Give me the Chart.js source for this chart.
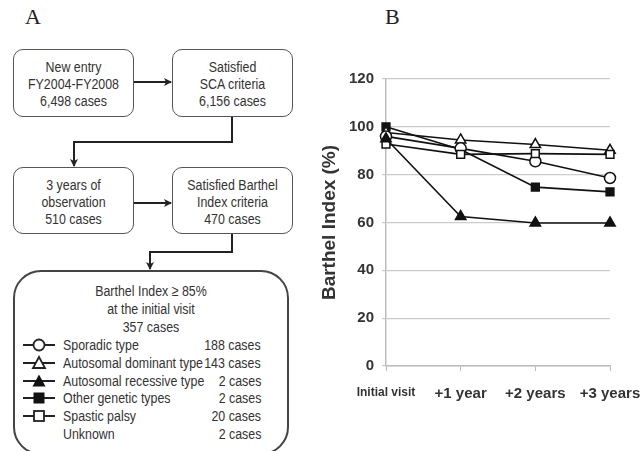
<!DOCTYPE html>
<html>
<head>
<meta charset="utf-8">
<script src="https://cdn.jsdelivr.net/npm/chart.js@4.4.1/dist/chart.umd.min.js"></script>
<style>
    body { margin: 0; background: #fff; }
    #page { position: relative; width: 641px; height: 451px; overflow: hidden; font-family: "Liberation Sans", Arial, sans-serif; color: #333; }
    .panel-label { position: absolute; top: 4px; font-family: "Liberation Serif", "DejaVu Serif", serif; font-size: 22px; color: #222; }
    .box { position: absolute; border: 1px solid #555; border-radius: 10px; box-sizing: border-box; text-align: center; font-size: 15.5px; line-height: 17px; padding-top: 8px; }
    .narrow { transform: scaleX(0.8); transform-origin: center; white-space: nowrap; }
    .bigbox { position: absolute; left: 13px; top: 270px; width: 276px; height: 185px; border: 2px solid #444; border-radius: 28px; box-sizing: border-box; font-size: 15.5px; }
    .bigbox .head { position: absolute; left: 0; right: 0; text-align: center; line-height: 18px; transform: scaleX(0.8); white-space: nowrap; }
    .row { position: absolute; left: 0; right: 0; height: 18px; line-height: 18px; }
    .row .name { position: absolute; left: 48px; transform: scaleX(0.8); transform-origin: left; white-space: nowrap; }
    .row .count { position: absolute; right: 26px; transform: scaleX(0.8); transform-origin: right; white-space: nowrap; }
    #arrows { position: absolute; left: 0; top: 0; }
    #chartWrap { position: absolute; left: 310px; top: 60px; width: 331px; height: 370px; }
</style>
</head>
<body>
<div id="page">
    <div class="panel-label" style="left:25px">A</div>
    <div class="panel-label" style="left:385px">B</div>

    <div class="box" style="left:13px; top:49px; width:121px; height:68px"><div class="narrow">New entry<br>FY2004-FY2008<br>6,498 cases</div></div>
    <div class="box" style="left:172px; top:49px; width:121px; height:68px"><div class="narrow">Satisfied<br>SCA criteria<br>6,156 cases</div></div>
    <div class="box" style="left:13px; top:167px; width:121px; height:67px"><div class="narrow">3 years of<br>observation<br>510 cases</div></div>
    <div class="box" style="left:172px; top:167px; width:121px; height:67px"><div class="narrow">Satisfied Barthel<br>Index criteria<br>470 cases</div></div>

    <div class="bigbox" id="bigbox">
        <div class="head" style="top:10px">Barthel Index ≥ 85%</div>
        <div class="head" style="top:28px">at the initial visit</div>
        <div class="head" style="top:46px">357 cases</div>
    </div>

    <svg id="arrows" width="310" height="451"></svg>

    <div id="chartWrap"><canvas id="chartB"></canvas></div>
</div>

<script>
// Panel B data
const timePoints = ["Initial visit", "+1 year", "+2 years", "+3 years"];
const sporadicType = [96, 91, 85.6, 78.6];
const autoDominant = [97.6, 94.5, 92.6, 90.2];
const autoRecessive = [95, 62.5, 59.8, 59.8];
const otherGenetic = [100, 90.5, 74.8, 72.8];
const spasticPalsy = [92.8, 88.5, 88.8, 88.5];
const yMin = 0;
const yMax = 120;
const yStep = 20;

// Panel A legend rows
const groupNames = ["Sporadic type", "Autosomal dominant type", "Autosomal recessive type", "Other genetic types", "Spastic palsy", "Unknown"];
const groupCases = ["188 cases", "143 cases", "2 cases", "2 cases", "20 cases", "2 cases"];
const groupMarkers = ["openCircle", "openTriangle", "triangle", "square", "openSquare", null];

// Flowchart arrows
function drawArrows() {
    const svg = document.getElementById("arrows");
    let html = `<defs><marker id="ah" markerWidth="8" markerHeight="8" refX="7" refY="4" orient="auto" markerUnits="userSpaceOnUse">
        <path d="M0,0 L8,4 L0,8 L2,4 z" fill="#222"/></marker></defs>`;
    const paths = [
        "M134,82 L171,82",
        "M232,117 L232,142 L74,142 L74,166",
        "M134,203 L171,203",
        "M232,234 L232,252 L150,252 L150,269"
    ];
    paths.forEach(d => {
        html += `<path d="${d}" fill="none" stroke="#222" stroke-width="2" marker-end="url(#ah)"/>`;
    });
    svg.innerHTML = html;
}

function markerSvg(kind) {
    let s = `<svg width="34" height="18" style="position:absolute;left:8px;top:0"><line x1="0" y1="9" x2="32" y2="9" stroke="#222" stroke-width="2"/>`;
    if (kind === "openCircle") s += `<circle cx="16" cy="9" r="5.5" fill="#fff" stroke="#222" stroke-width="1.8"/>`;
    if (kind === "openTriangle") s += `<path d="M16,3 L22,14 L10,14 z" fill="#fff" stroke="#222" stroke-width="1.8"/>`;
    if (kind === "triangle") s += `<path d="M16,2.5 L22.5,14.5 L9.5,14.5 z" fill="#111"/>`;
    if (kind === "square") s += `<rect x="10.5" y="3.5" width="11" height="11" fill="#111"/>`;
    if (kind === "openSquare") s += `<rect x="11" y="4" width="10" height="10" fill="#fff" stroke="#222" stroke-width="1.8"/>`;
    return s + "</svg>";
}

function drawLegendRows() {
    const box = document.getElementById("bigbox");
    groupNames.forEach((name, i) => {
        const row = document.createElement("div");
        row.className = "row";
        row.style.top = (64 + i * 17.8) + "px";
        row.innerHTML = (groupMarkers[i] ? markerSvg(groupMarkers[i]) : "") +
            `<span class="name">${name}</span><span class="count">${groupCases[i]}</span>`;
        box.appendChild(row);
    });
}

function series(label, data, style, filled) {
    return {
        label: label,
        data: data,
        borderColor: "#111",
        borderWidth: 1.6,
        pointStyle: style,
        pointRadius: style === "triangle" ? 6 : 5.5,
        pointBackgroundColor: filled ? "#111" : "#fff",
        pointBorderColor: "#111",
        pointBorderWidth: 1.5,
        tension: 0,
        fill: false
    };
}

function drawChart() {
    const ctx = document.getElementById("chartB").getContext("2d");
    new Chart(ctx, {
        type: "line",
        data: {
            labels: timePoints,
            datasets: [
                series("Autosomal recessive type", autoRecessive, "triangle", true),
                series("Spastic palsy", spasticPalsy, "rect", false),
                series("Sporadic type", sporadicType, "circle", false),
                series("Autosomal dominant type", autoDominant, "triangle", false),
                series("Other genetic types", otherGenetic, "rect", true)
            ]
        },
        options: {
            responsive: true,
            maintainAspectRatio: false,
            animation: false,
            layout: { padding: { top: 19, right: 31, left: 0, bottom: 0 } },
            plugins: { legend: { display: false }, tooltip: { enabled: false } },
            scales: {
                x: {
                    offset: false,
                    grid: { drawOnChartArea: false, color: "#bbb", tickLength: 5 },
                    border: { color: "#bbb", width: 1.5 },
                    ticks: {
                        color: "#333",
                        padding: 14,
                        maxRotation: 0,
                        font: c => c.index === 0
                            ? { family: "Liberation Sans, Arial", size: 12, weight: "bold" }
                            : { family: "Liberation Sans, Arial", size: 15, weight: "bold" }
                    },
                    afterFit: s => { s.height = 64; s.paddingRight = 0; s.paddingLeft = 0; }
                },
                y: {
                    min: yMin,
                    max: yMax,
                    grid: { color: "#ccc", lineWidth: 1.2, tickLength: 4 },
                    border: { color: "#bbb", width: 1.5 },
                    ticks: {
                        stepSize: yStep,
                        color: "#333",
                        padding: 8,
                        font: { family: "Liberation Sans, Arial", size: 15, weight: "bold" }
                    },
                    title: {
                        display: true,
                        text: "Barthel Index (%)",
                        color: "#333",
                        padding: { top: 8, bottom: 0 },
                        font: { family: "Liberation Sans, Arial", size: 19, weight: "bold" }
                    },
                    afterFit: s => { s.width = 76; }
                }
            }
        }
    });
}

drawArrows();
drawLegendRows();
drawChart();
</script>
</body>
</html>
